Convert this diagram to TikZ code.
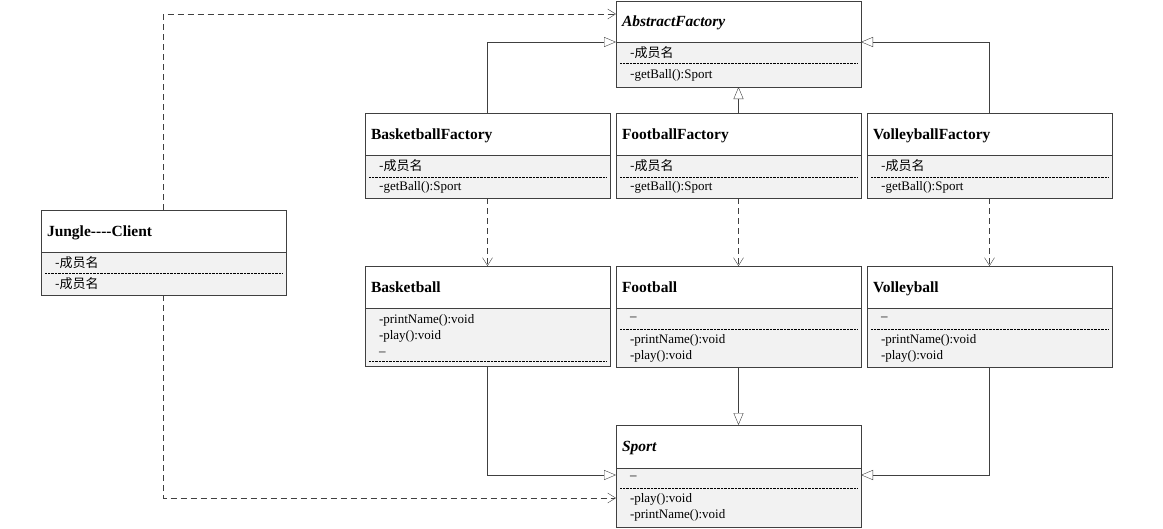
\documentclass[tikz,border=0pt]{standalone}
\usepackage{fontspec}
\setmainfont{Liberation Serif}
\newfontfamily\cjk{Noto Sans CJK SC}
\usetikzlibrary{arrows.meta,positioning}
\definecolor{partgray}{HTML}{F2F2F2}
\definecolor{linegray}{HTML}{404040}

\begin{document}
\begin{tikzpicture}[
x=1pt, y=1pt,
every node/.append style={outer sep=0pt},
titlenode/.style={rectangle, fill=white, minimum width=245pt, text width=233pt,
  text height=11pt, text depth=1pt,
  inner xsep=6pt, inner ysep=0pt, align=left, font=\fontsize{15.5}{18}\selectfont\bfseries},
partnode/.style={rectangle, fill=partgray, minimum width=245pt, text width=217pt,
  inner xsep=14pt, inner ysep=0pt, align=left, font=\fontsize{13}{16}\selectfont},
genarrow/.style={draw=linegray, arrows={-Triangle[open, length=12pt, width=10pt]}},
deparrow/.style={draw=linegray, dash pattern=on 6pt off 4pt,
  arrows={-Straight Barb[length=8pt, width=10pt]}}]
\useasboundingbox (0,0) rectangle (1163,-528);
% Factories
\node[titlenode, anchor=north west, minimum height=41pt] (af) at (616,-1) {\itshape AbstractFactory};
\node[partnode, minimum height=21pt] (afa) [below=0pt of af] {\cjk -成员名};
\node[partnode, minimum height=24pt] (afo) [below=0pt of afa] {{\cjk -}getBall():Sport};
\node[titlenode, minimum height=42pt] (ff) [below=26pt of afo] {FootballFactory};
\node[partnode, minimum height=22pt] (ffa) [below=0pt of ff] {\cjk -成员名};
\node[partnode, minimum height=21pt] (ffo) [below=0pt of ffa] {{\cjk -}getBall():Sport};
\node[titlenode, minimum height=42pt] (bf) [left=6pt of ff] {BasketballFactory};
\node[partnode, minimum height=22pt] (bfa) [below=0pt of bf] {\cjk -成员名};
\node[partnode, minimum height=21pt] (bfo) [below=0pt of bfa] {{\cjk -}getBall():Sport};
\node[titlenode, minimum height=42pt] (vf) [right=6pt of ff] {VolleyballFactory};
\node[partnode, minimum height=22pt] (vfa) [below=0pt of vf] {\cjk -成员名};
\node[partnode, minimum height=21pt] (vfo) [below=0pt of vfa] {{\cjk -}getBall():Sport};
% Balls
\node[titlenode, minimum height=42pt] (fb) [below=68pt of ffo] {Football};
\node[partnode, minimum height=21pt] (fba) [below=0pt of fb] {--};
\node[partnode, minimum height=38pt] (fbo) [below=0pt of fba] {-printName():void\\-play():void};
\node[titlenode, minimum height=42pt] (bb) [left=6pt of fb] {Basketball};
\node[partnode, minimum height=53pt] (bba) [below=0pt of bb] {-printName():void\\-play():void\\--};
\node[partnode, minimum height=5pt] (bbo) [below=0pt of bba] {};
\node[titlenode, minimum height=42pt] (vb) [right=6pt of fb] {Volleyball};
\node[partnode, minimum height=21pt] (vba) [below=0pt of vb] {--};
\node[partnode, minimum height=38pt] (vbo) [below=0pt of vba] {-printName():void\\-play():void};
\node[titlenode, minimum height=43pt] (sp) [below=58pt of fbo] {\itshape Sport};
\node[partnode, minimum height=20pt] (spa) [below=0pt of sp] {--};
\node[partnode, minimum height=39pt] (spo) [below=0pt of spa] {-play():void\\-printName():void};
% Client
\node[titlenode, anchor=north west, minimum height=42pt] (cl) at (41,-210) {Jungle-{}-{}-{}-Client};
\node[partnode, minimum height=21pt] (cla) [below=0pt of cl] {\cjk -成员名};
\node[partnode, minimum height=22pt] (clo) [below=0pt of cla] {\cjk -成员名};
% Frames
\foreach \c in {af,ff,bf,vf,fb,bb,vb,sp,cl} {
  \draw[linegray, thick] (\c.north west) rectangle (\c o.south east);
  \draw[linegray, thick] (\c.south west) -- (\c.south east);
  \draw[densely dotted] ([xshift=4pt]\c a.south west) -- ([xshift=-4pt]\c a.south east);
}
% Lines
\draw[genarrow] (bf.north) |- (af.south west);
\draw[genarrow] (vf.north) |- (af.south east);
\draw[genarrow] (ff.north) -- (afo.south);
\draw[deparrow] (bfo.south) -- (bb.north);
\draw[deparrow] (ffo.south) -- (fb.north);
\draw[deparrow] (vfo.south) -- (vb.north);
\draw[genarrow] (bbo.south) |- ([yshift=-7pt]sp.south west);
\draw[genarrow] (vbo.south) |- ([yshift=-7pt]sp.south east);
\draw[genarrow] (fbo.south) -- (sp.north);
\draw[deparrow] (cl.north) |- ([yshift=-13pt]af.north west);
\draw[deparrow] (clo.south) |- ([yshift=-10pt]spa.south west);
\end{tikzpicture}
\end{document}
